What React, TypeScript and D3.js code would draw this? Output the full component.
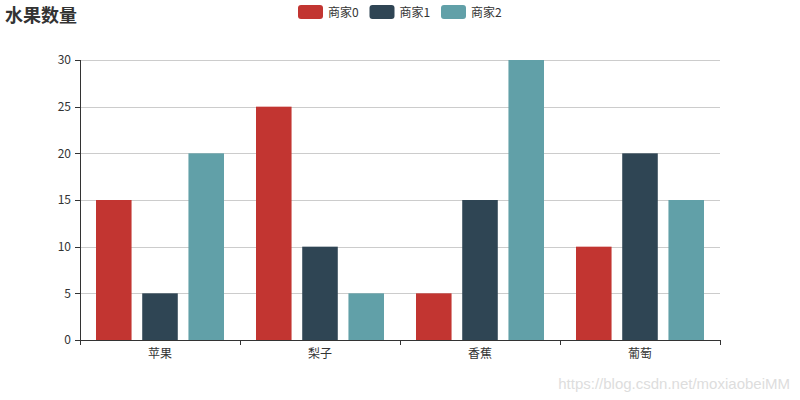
import React from "react";
import * as d3 from "d3";

const categories = ["苹果", "梨子", "香蕉", "葡萄"];
const seriesNames = ["商家0", "商家1", "商家2"];
const seller0 = [15, 25, 5, 10];
const seller1 = [5, 10, 15, 20];
const seller2 = [20, 5, 30, 15];
const yTicks = [0, 5, 10, 15, 20, 25, 30];
const colors = ["#c23531", "#2f4554", "#61a0a8"];

const W = 800, H = 400;
const M = { left: 80, right: 80, top: 60, bottom: 60 };
const FONT = "'Noto Sans CJK SC', 'Noto Sans', sans-serif";

export default function App() {
  const series = [seller0, seller1, seller2];
  const x = d3.scaleBand<string>().domain(categories).range([M.left, W - M.right]).paddingInner(0).paddingOuter(0);
  const y = d3.scaleLinear().domain([0, 30]).range([H - M.bottom, M.top]);
  const bw = x.bandwidth();
  const groupW = bw * 0.8;
  const barW = groupW / 3.6;
  const gap = barW * 0.3;
  const c = (v: number) => Math.round(v) + 0.5;

  return (
    <svg width={W} height={H} style={{ position: "absolute", left: 0, top: 0, background: "#fff" }} fontFamily={FONT}>
      <text x={5} y={22} fontSize={18} fontWeight="bold" fill="#333">水果数量</text>
      {seriesNames.map((n, i) => {
        const gx = 298 + i * 71.5;
        return (
          <g key={n}>
            <rect x={gx} y={5} width={25} height={14} rx={3} fill={colors[i]} />
            <text x={gx + 30} y={16.5} fontSize={12} fill="#333">{n}</text>
          </g>
        );
      })}
      {yTicks.map((t) => (
        <g key={t}>
          {t > 0 && <line x1={M.left} x2={W - M.right} y1={c(y(t))} y2={c(y(t))} stroke="#ccc" strokeWidth={1} />}
          <line x1={M.left - 5} x2={M.left} y1={c(y(t))} y2={c(y(t))} stroke="#333" />
          <text x={M.left - 9} y={y(t)} dy="0.35em" textAnchor="end" fontSize={12} fill="#333">{t}</text>
        </g>
      ))}
      {categories.map((cat, ci) =>
        series.map((s, si) => (
          <rect
            key={cat + si}
            x={x(cat)! + bw * 0.1 + si * (barW + gap)}
            y={y(s[ci])}
            width={barW}
            height={y(0) - y(s[ci])}
            fill={colors[si]}
          />
        ))
      )}
      <line x1={c(M.left)} x2={c(M.left)} y1={M.top} y2={H - M.bottom} stroke="#333" />
      <line x1={M.left} x2={W - M.right} y1={c(H - M.bottom)} y2={c(H - M.bottom)} stroke="#333" />
      {[...categories.map((cat) => x(cat)!), W - M.right].map((tx, i) => (
        <line key={i} x1={c(tx)} x2={c(tx)} y1={H - M.bottom} y2={H - M.bottom + 5} stroke="#333" />
      ))}
      {categories.map((cat) => (
        <text key={cat} x={x(cat)! + bw / 2} y={H - M.bottom + 18} textAnchor="middle" fontSize={12} fill="#333">{cat}</text>
      ))}
      <text x={790} y={389} textAnchor="end" fontSize={15} fill="#ddd" fontFamily="'Liberation Sans', Arial, sans-serif">https://blog.csdn.net/moxiaobeiMM</text>
    </svg>
  );
}
